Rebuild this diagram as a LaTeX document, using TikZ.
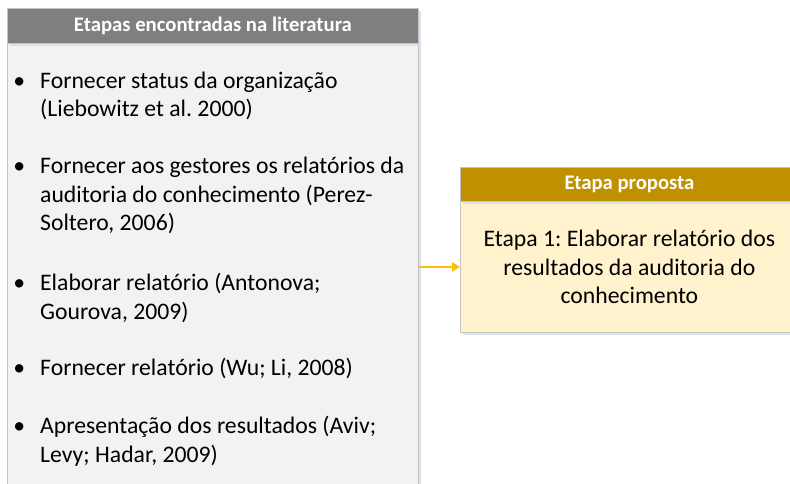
\documentclass[tikz,border=0pt]{standalone}
\usepackage{fontspec}
\setmainfont{Carlito}
\usetikzlibrary{arrows.meta,shadows}
\definecolor{hdrgray}{HTML}{7F7F7F}
\definecolor{bodygray}{HTML}{F2F2F2}
\definecolor{edgegray}{HTML}{C4C4C4}
\definecolor{hdrgold}{HTML}{BF9000}
\definecolor{bodygold}{HTML}{FFF2CC}
\definecolor{arrgold}{HTML}{FFC000}
\definecolor{shadowc}{HTML}{D9E2EF}
\newcommand{\bul}{\llap{\textbullet\hspace{15pt}}}
\newcommand{\itm}[1]{\parbox[t]{380pt}{\raggedright\leavevmode\bul #1}}
\begin{document}
\frenchspacing
\begin{tikzpicture}[x=1pt,y=-1pt,
  boxshadow/.style={drop shadow={shadow xshift=3pt,shadow yshift=-3pt,fill=shadowc,opacity=1}},
  lhead/.style={rectangle,draw=edgegray,line width=0.8pt,fill=hdrgray,text=white,
    font=\fontsize{20.7}{24}\selectfont\bfseries,inner sep=0pt,anchor=north west},
  lbody/.style={rectangle,draw=edgegray,line width=0.8pt,fill=bodygray,inner sep=0pt,anchor=north west},
  rhead/.style={rectangle,draw=edgegray,line width=0.8pt,fill=hdrgold,text=white,
    font=\fontsize{20.7}{24}\selectfont\bfseries,inner sep=0pt,anchor=north west},
  rbody/.style={rectangle,draw=edgegray,line width=0.8pt,fill=bodygold,inner sep=0pt,anchor=north west,
    align=center,font=\fontsize{23.7}{28.5}\selectfont},
  item/.style={font=\fontsize{23.7}{28.5}\selectfont,inner sep=0pt,anchor=base west},
  arr/.style={draw=arrgold,line width=2.4pt,-{Triangle[length=8pt,width=9pt]}}
]
\useasboundingbox (0,0) rectangle (790,484);

% left box
\node[lbody,boxshadow,minimum width=411,minimum height=460] (lb) at (7,43) {};
\node[lhead,boxshadow,minimum width=411,minimum height=35] (lh) at (7,8) {Etapas encontradas na literatura};

\node[item] (i1) at (40,88.5) {\itm{Fornecer status da organização\\(Liebowitz et al. 2000)}};
\node[item] (i2) at (40,173.5) {\itm{Fornecer aos gestores os relatórios da\\auditoria do conhecimento (Perez-\\Soltero, 2006)}};
\node[item] (i3) at (40,290.5) {\itm{Elaborar relatório (Antonova;\\Gourova, 2009)}};
\node[item] (i4) at (40,375.5) {\itm{Fornecer relatório (Wu; Li, 2008)}};
\node[item] (i5) at (40,433.5) {\itm{Apresentação dos resultados (Aviv;\\Levy; Hadar, 2009)}};

% right box
\node[rbody,boxshadow,minimum width=338,minimum height=131] (rb) at (460,201)
  {Etapa 1: Elaborar relatório dos\\resultados da auditoria do\\conhecimento};
\node[rhead,boxshadow,minimum width=338,minimum height=34] (rh) at (460,167) {Etapa proposta};

% connector
\draw[arr] (lb.east |- rb.center) -- (rb.west);
\end{tikzpicture}
\end{document}
